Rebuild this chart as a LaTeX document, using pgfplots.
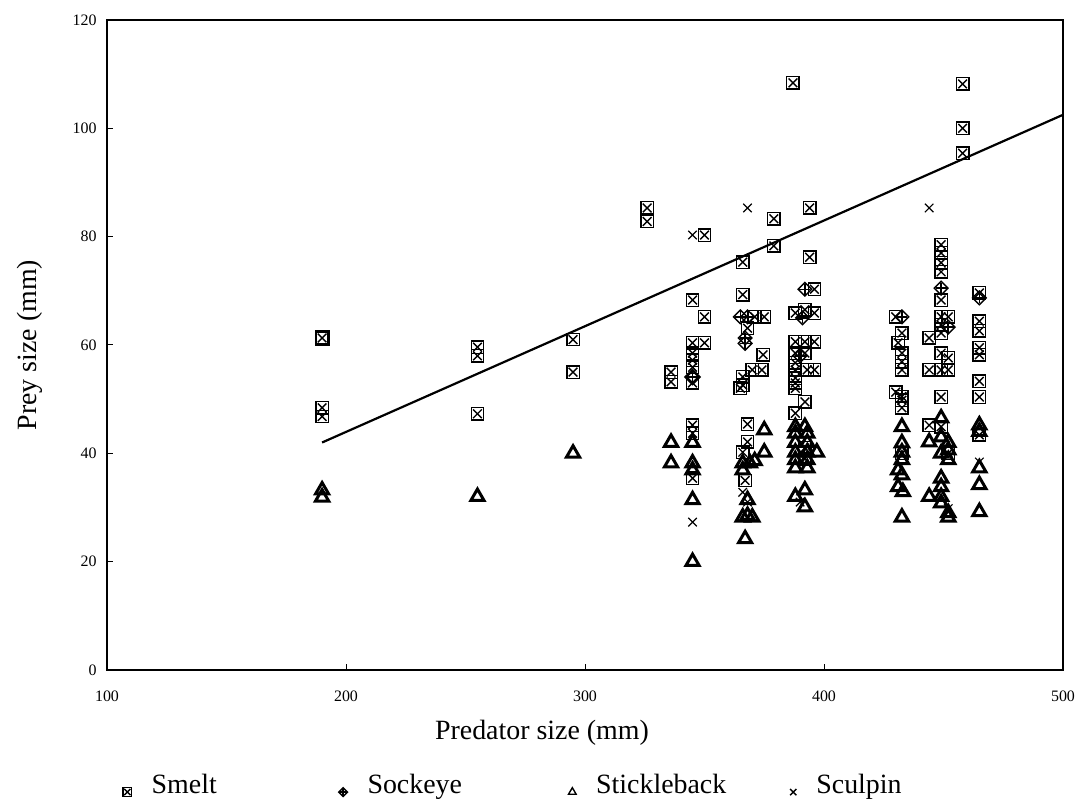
\documentclass[border=0pt]{standalone}
\usepackage{fontspec}
\setmainfont{Liberation Serif}
\usepackage{pgfplots}
\pgfplotsset{compat=1.18}

% smelt: square with a cross inside
\pgfdeclareplotmark{boxx}{%
  \pgfpathrectangle{\pgfpoint{-\pgfplotmarksize}{-\pgfplotmarksize}}{\pgfpoint{2\pgfplotmarksize}{2\pgfplotmarksize}}%
  \pgfusepathqstroke
  \pgfsetlinewidth{0.7bp}%
  \pgfpathmoveto{\pgfpoint{-0.7\pgfplotmarksize}{-0.7\pgfplotmarksize}}%
  \pgfpathlineto{\pgfpoint{0.7\pgfplotmarksize}{0.7\pgfplotmarksize}}%
  \pgfpathmoveto{\pgfpoint{-0.7\pgfplotmarksize}{0.7\pgfplotmarksize}}%
  \pgfpathlineto{\pgfpoint{0.7\pgfplotmarksize}{-0.7\pgfplotmarksize}}%
  \pgfusepathqstroke
}
% sockeye: diamond with a plus inside
\pgfdeclareplotmark{diamondplus}{%
  \pgfpathmoveto{\pgfpoint{0pt}{\pgfplotmarksize}}%
  \pgfpathlineto{\pgfpoint{\pgfplotmarksize}{0pt}}%
  \pgfpathlineto{\pgfpoint{0pt}{-\pgfplotmarksize}}%
  \pgfpathlineto{\pgfpoint{-\pgfplotmarksize}{0pt}}%
  \pgfpathclose
  \pgfusepathqstroke
  \pgfsetlinewidth{0.7bp}%
  \pgfpathmoveto{\pgfpoint{0pt}{0.8\pgfplotmarksize}}%
  \pgfpathlineto{\pgfpoint{0pt}{-0.8\pgfplotmarksize}}%
  \pgfpathmoveto{\pgfpoint{-0.8\pgfplotmarksize}{0pt}}%
  \pgfpathlineto{\pgfpoint{0.8\pgfplotmarksize}{0pt}}%
  \pgfusepathqstroke
}

\begin{document}
\begin{tikzpicture}
\begin{axis}[
    name=ax,
    scale only axis, width=478bp, height=325bp,
    xmin=100, xmax=500, ymin=0, ymax=120,
    xtick={100,200,...,500}, ytick={0,20,...,120},
    tick align=inside, tick pos=left, major tick length=3bp,
    axis line style={line width=1.2bp},
    every tick/.style={black, line width=0.5bp},
    tick label style={font=\fontsize{8}{9}\selectfont, inner sep=0pt},
    /pgf/number format/assume math mode=true,
    xticklabel style={anchor=center, yshift=-13bp},
    yticklabel style={anchor=east, xshift=-5bp},
    every axis x label/.style={at={(axis description cs:0.455,0)}, anchor=center, yshift=-31.5bp},
    every axis y label/.style={at={(axis description cs:0,0.5)}, rotate=90, anchor=center, yshift=38.5bp},
    label style={font=\fontsize{14}{16}\selectfont},
    xlabel={Predator size (mm)}, ylabel={Prey size (mm)},
    legend columns=4, legend cell align=left,
    legend style={draw=none, fill=none, at={(axis description cs:0.01,-0.177)}, anchor=west,
      font=\fontsize{14}{16}\selectfont, nodes={inner sep=1bp},
      /tikz/every odd column/.append style={column sep=9bp},
      /tikz/every even column/.append style={column sep=0pt}},
    legend image code/.code={\draw[#1, mark size=2.2bp, mark options={line width=0.7bp}] plot coordinates {(4bp,-3.5bp)};},
]
\addplot[black, no marks, line width=1.1bp, forget plot] coordinates {(190,42) (500,102.5)};

\addplot[black, only marks, mark=boxx, mark size=3.1bp, mark options={line width=1.4bp}] coordinates {
 (190,61.3) (190,48.4) (190,46.8)
 (255,59.6) (255,58) (255,47.3)
 (295,61) (295,55)
 (326,85.3) (326,82.8)
 (336,55) (336,53.2)
 (345,68.3) (345,60.4) (345,58.5) (345,57.2) (345,55.9) (345,53) (345,45.2) (345,43.7) (345,35.4)
 (350,80.3) (350,65.2) (350,60.4)
 (366,75.3) (366,69.3) (371,65.2) (375,65.2) (368,63.1) (374.5,58.2) (370,55.4) (374,55.4)
 (366,54.1) (366,52.6) (365,52) (368,45.4) (368,42.1) (366,40.2) (367,35)
 (379,83.3) (379,78.3)
 (387,108.4)
 (394,85.3) (394,76.2) (396,70.3)
 (388,65.9) (392,66.5) (396,65.9)
 (388,60.6) (392,60.6) (396,60.6)
 (388,58.5) (392,58.5) (388,56.7)
 (388,55.4) (393,55.4) (396,55.4)
 (388,53.9) (388,53) (388,52) (392,49.5) (388,47.4) (392,41) (392,39)
 (430,65.2) (432.6,62.2) (431,60.4) (432.6,58.5) (432.6,56.9) (432.6,55.4) (430,51.3) (432.6,50.5)
 (432.6,49.8) (432.6,48.4) (432.6,40)
 (444,61.3) (444,55.4) (444,45.2)
 (449,78.5) (449,77) (449,75.2) (449,73.5) (449,68.3) (449,65.2) (452,65.2) (449,63.7) (449,62.2)
 (449,58.5) (452,57.6) (449,55.4) (452,55.4) (449,50.4) (449,44.9) (452,40)
 (458,108.2) (458,100) (458,95.4)
 (465,69.6) (465,64.4) (465,62.6) (465,59.5) (465,58.2) (465,53.3) (465,50.4) (465,43.4)
};
\addlegendentry{\makebox[92.5bp][l]{Smelt}}

\addplot[black, only marks, mark=diamondplus, mark size=3.4bp, mark options={line width=1.3bp}] coordinates {
 (345,54.1) (365,65.2) (368,65.2) (367,61.3) (367,60.3) (392,70.3) (391,65) (390,58)
 (432.6,65.2) (449,70.5) (452,63.3) (465,68.7)
};
\addlegendentry{\makebox[99.5bp][l]{Sockeye}}

\addplot[black, only marks, mark=triangle, mark size=3.8bp, mark options={line width=1.5bp}] coordinates {
 (190,33.2) (190,31.9) (255,32) (295,40)
 (336,42) (336,38.2)
 (345,42) (345,38.2) (345,36.9) (345,31.4) (345,20)
 (375,44.3) (375,40.2)
 (366,38.2) (369,38.2) (371,38.6) (366,36.9) (368,31.4) (366,28.2) (368,28.5) (370,28.2) (367,24.2)
 (388,44.9) (392,44.9) (388,43.7) (393,43.7) (388,42) (393,42) (388,40.2) (393,40.2) (397,40.2)
 (388,38.8) (393,38.8) (388,37.3) (393,37.3) (392,33.2) (388,32) (392,30.1)
 (432.6,44.9) (432.6,41.9) (432.6,40.2) (432.6,38.8) (431,36.9) (432.6,36) (431,33.8) (433,32.9) (432.6,28.2)
 (444,42.1) (444,32)
 (449,46.5) (449,43) (452,42) (452,40.6) (449,40) (452,38.8) (449,35.4) (449,33.8) (449,32)
 (449,30.8) (452,29) (452,28.2)
 (465,45.2) (465,44) (465,37.3) (465,34.2) (465,29.2)
};
\addlegendentry{\makebox[96bp][l]{Stickleback}}

\addplot[black, only marks, mark=x, mark size=3bp, mark options={line width=0.6bp}] coordinates {
 (345,80.3) (345,27.3) (368,85.3) (366,32.8) (368,31) (390,31) (444,85.3) (452,29.8) (465,38.4)
};
\addlegendentry{Sculpin}
\end{axis}
\pgfresetboundingbox
\path[use as bounding box] ([shift={(-53.5bp,-66bp)}]ax.south west) rectangle ([shift={(10.5bp,10bp)}]ax.north east);
\end{tikzpicture}
\end{document}
